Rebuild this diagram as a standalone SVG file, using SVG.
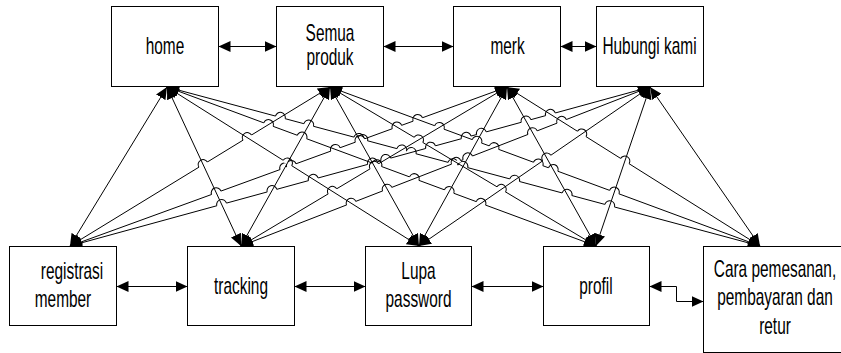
<svg xmlns="http://www.w3.org/2000/svg" width="841" height="353" viewBox="0 0 841 353">
<style>
.box{fill:#fff;stroke:#000;stroke-width:1}
.lbl{font-family:"Liberation Sans",Arial,sans-serif;font-size:23px;fill:#000;text-anchor:middle}
.cn{fill:none;stroke:#000;stroke-width:1;marker-start:url(#ah);marker-end:url(#ah)}
.hp{marker-mid:url(#hop)}
</style>
<defs>
<marker id="ah" viewBox="0 0 12 11" refX="12" refY="5.5" markerWidth="12" markerHeight="11" markerUnits="userSpaceOnUse" orient="auto-start-reverse"><path d="M0,0 L12,5.5 L0,11 z" fill="#000"/></marker>
<marker id="hop" viewBox="-6 -6 12 12" refX="0" refY="0" markerWidth="12" markerHeight="12" markerUnits="userSpaceOnUse" orient="auto" overflow="visible"><path d="M-5,0 H5" stroke="#fff" stroke-width="3" fill="none"/><path d="M-5,0 A5,5 0 0 1 5,0" fill="none" stroke="#000" stroke-width="1"/></marker>
</defs>
<rect width="841" height="353" fill="#fff"/>
<g id="connectors">
<path class="cn" d="M218.5,46.5 H276.5"/>
<path class="cn" d="M383.5,46.5 H453.5"/>
<path class="cn" d="M560.5,46.5 H596.5"/>
<path class="cn" d="M116.5,286.5 H187.5"/>
<path class="cn" d="M294.5,286.5 H365.5"/>
<path class="cn" d="M471.5,286.5 H543.5"/>
<path class="cn" d="M649.5,286.5 H676.5 V301.5 H703.5"/>
<path class="cn hp" d="M167,87 L280.32,117.38 L308.73,125 L358.78,138.42 L362.75,139.49 L401.71,149.93 L411.17,152.47 L452.85,163.64 L462.83,166.32 L514.6,180.2 L567.04,194.26 L609.69,205.7 L760,246"/>
<path class="cn hp" d="M70,246 L221.65,204.43 L272,190.63 L313.29,179.3 L372.47,163.08 L385.86,159.41 L430.61,147.14 L466.24,137.38 L481.42,133.21 L526.02,120.99 L550.43,114.3 L650,87"/>
<path class="cn hp" d="M70,246 L216.24,192.79 L284.73,167.87 L291.35,165.46 L335.43,149.43 L359.95,140.5 L396.97,127.03 L417.78,119.46 L507,87"/>
<path class="cn hp" d="M330,87 L439.35,127.44 L476.93,141.33 L494.01,147.64 L538.17,163.97 L553.2,169.53 L614.3,192.12 L760,246"/>
<path class="cn hp" d="M167,87 L268.49,124.61 L301.99,137.03 L376.87,164.78 L414.26,178.64 L449.13,191.56 L480.95,203.36 L596,246"/>
<path class="cn hp" d="M241,246 L351.14,203.18 L387.19,189.17 L456.1,162.38 L467.8,157.83 L532.56,132.66 L561.65,121.35 L650,87"/>
<path class="cn hp" d="M330,87 L418.5,139.9 L501.27,189.37 L596,246"/>
<path class="cn hp" d="M241,246 L332.41,191.36 L374.37,166.28 L507,87"/>
<path class="cn hp" d="M70,246 L203.11,164.6 L247.23,137.62 L330,87"/>
<path class="cn hp" d="M507,87 L581.75,133.98 L624.85,161.06 L760,246"/>
<path class="cn hp" d="M167,87 L287.46,163 L419,246"/>
<path class="cn hp" d="M419,246 L546.77,158.05 L650,87"/>
<path class="cn" d="M650,87 L760,246"/>
<path class="cn" d="M70,246 L167,87"/>
<path class="cn" d="M241,246 L330,87"/>
<path class="cn" d="M330,87 L419,246"/>
<path class="cn" d="M507,87 L596,246"/>
<path class="cn" d="M419,246 L507,87"/>
<path class="cn" d="M167,87 L241,246"/>
<path class="cn" d="M596,246 L650,87"/>
</g>
<g id="home"><rect class="box" x="111.5" y="6.5" width="107" height="80"/><text class="lbl" transform="translate(165,0) scale(0.67,1)"><tspan x="0" y="54">home</tspan></text></g>
<g id="semua-produk"><rect class="box" x="276.5" y="6.5" width="107" height="80"/><text class="lbl" transform="translate(330,0) scale(0.67,1)"><tspan x="0" y="41.5">Semua</tspan><tspan x="0" y="65.5">produk</tspan></text></g>
<g id="merk"><rect class="box" x="453.5" y="6.5" width="107" height="80"/><text class="lbl" transform="translate(507.5,0) scale(0.67,1)"><tspan x="0" y="54">merk</tspan></text></g>
<g id="hubungi-kami"><rect class="box" x="596.5" y="6.5" width="107" height="80"/><text class="lbl" transform="translate(649.5,0) scale(0.67,1)"><tspan x="0" y="54">Hubungi kami</tspan></text></g>
<g id="registrasi-member"><rect class="box" x="9.5" y="246.5" width="107" height="79"/><text class="lbl" transform="translate(72,0) scale(0.67,1)"><tspan x="0" y="279">registrasi</tspan></text><text class="lbl" transform="translate(63,0) scale(0.67,1)"><tspan x="0" y="307.5">member</tspan></text></g>
<g id="tracking"><rect class="box" x="187.5" y="246.5" width="107" height="79"/><text class="lbl" transform="translate(241,0) scale(0.67,1)"><tspan x="0" y="294">tracking</tspan></text></g>
<g id="lupa-password"><rect class="box" x="365.5" y="246.5" width="106" height="79"/><text class="lbl" transform="translate(418.5,0) scale(0.67,1)"><tspan x="0" y="279">Lupa</tspan><tspan x="0" y="307.5">password</tspan></text></g>
<g id="profil"><rect class="box" x="543.5" y="246.5" width="106" height="79"/><text class="lbl" transform="translate(596,0) scale(0.67,1)"><tspan x="0" y="294">profil</tspan></text></g>
<g id="cara-pemesanan"><rect class="box" x="703.5" y="246.5" width="144" height="106"/><text class="lbl" transform="translate(775,0) scale(0.67,1)"><tspan x="0" y="277">Cara pemesanan,</tspan><tspan x="0" y="305.5">pembayaran dan</tspan><tspan x="0" y="334">retur</tspan></text></g>
</svg>
